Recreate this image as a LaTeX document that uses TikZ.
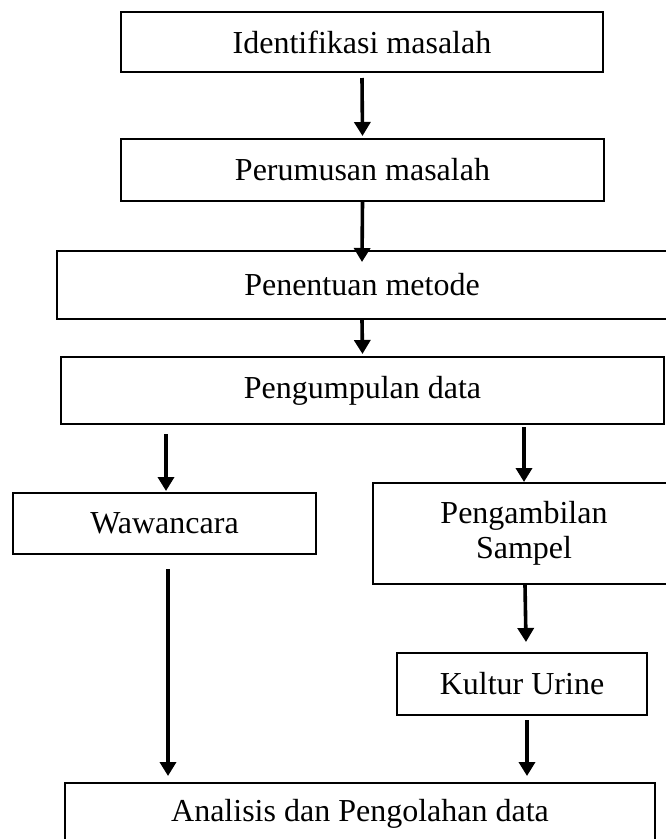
\documentclass[tikz,border=0pt]{standalone}
\usepackage{fontspec}
\setmainfont{Liberation Serif}
\usetikzlibrary{arrows.meta,calc}
\tikzset{
  box/.style={draw=black, line width=2pt, rectangle, inner sep=0pt, align=center,
    font=\fontsize{32}{35}\selectfont},
  flow/.style={line width=3.6pt, -{Triangle[length=14pt,width=16pt]}}
}
\begin{document}
\begin{tikzpicture}[x=1pt,y=-1pt]
\useasboundingbox (0,0) rectangle (665,839);
\node[box, minimum width=482pt, minimum height=60pt] (b1) at (362,42) {Identifikasi masalah};
\node[box, minimum width=483pt, minimum height=62pt] (b2) at (362.5,170) {Perumusan masalah};
\node[box, minimum width=610pt, minimum height=68pt] (b3) at (362,285) {Penentuan metode};
\node[box, minimum width=603pt, minimum height=67pt] (b4) at (362.5,390.5) {Pengumpulan data};
\node[box, minimum width=303pt, minimum height=61pt] (b5) at (164.5,523.5) {Wawancara};
\node[box, minimum width=302pt, minimum height=101pt] (b6) at (524,533.5) {Pengambilan\\Sampel};
\node[box, minimum width=250pt, minimum height=62pt] (b7) at (522,684) {Kultur Urine};
\node[box, minimum width=590pt, minimum height=62pt] (b8) at (360,814) {Analisis dan Pengolahan data};

\draw[flow] ([yshift=-5pt]b1.south) -- ([yshift=2pt]b2.north);
\draw[flow] (b2.south) -- ([yshift=-12pt]b3.north);
\draw[flow] (b3.south) -- ([yshift=2pt]b4.north);

\coordinate (l1) at ([xshift=1.5pt]b5.north);
\coordinate (c1) at ([yshift=-9pt]b4.south);
\coordinate (c2) at ([yshift=-2pt]b4.south);
\draw[flow] (c1 -| l1) -- ([yshift=1pt]l1);
\draw[flow] (c2 -| b6.north) -- (b6.north);

\coordinate (l2) at ([xshift=3.5pt,yshift=-14pt]b5.south);
\draw[flow] (l2) -- ([yshift=6pt]b8.north -| l2);

\draw[flow] ([xshift=1pt]b6.south) -- ([xshift=4pt,yshift=10pt]b7.north);
\coordinate (r2) at ([xshift=5pt,yshift=-4pt]b7.south);
\draw[flow] (r2) -- ([yshift=6pt]b8.north -| r2);
\end{tikzpicture}
\end{document}
